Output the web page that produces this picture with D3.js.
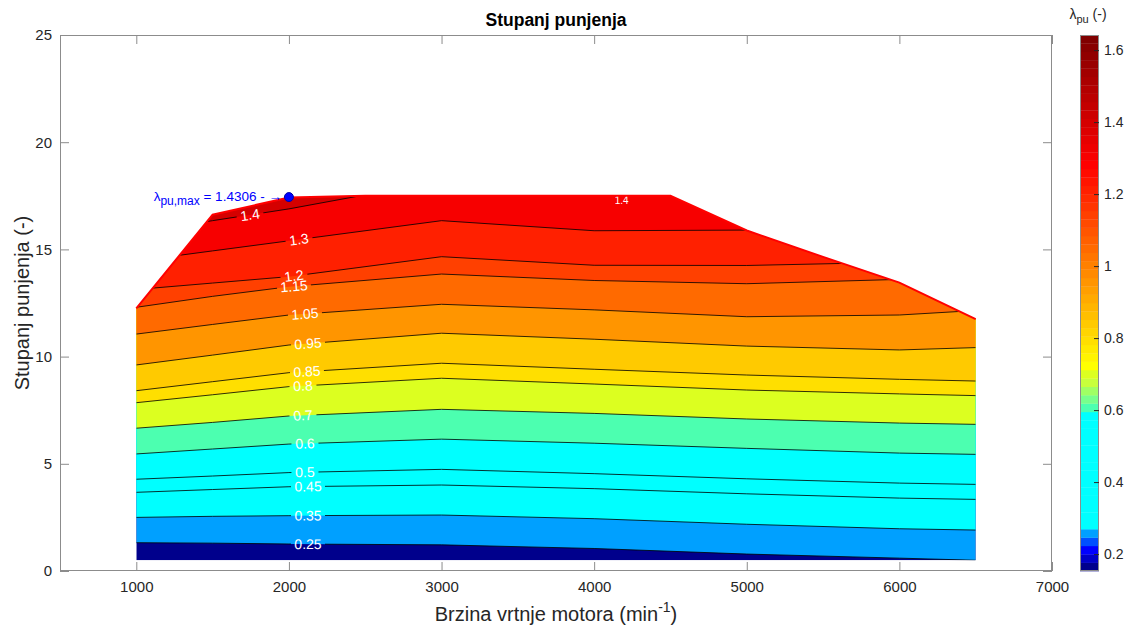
<!DOCTYPE html>
<html><head><meta charset="utf-8">
<script src="https://cdn.jsdelivr.net/npm/d3@7"></script>
<style>
body{margin:0;background:#fff;}
text{font-family:"Liberation Sans",Arial,Helvetica,sans-serif;}
</style>
</head><body>
<svg id="c" width="1127" height="631"></svg>
<script>
// ---------------- data ----------------
const speedCols = [1000, 1500, 2000, 3000, 4000, 5000, 6000, 6500];   // x columns of contour lines (min^-1)
const levels = [0.25, 0.35, 0.45, 0.5, 0.6, 0.7, 0.8, 0.85, 0.95, 1.05, 1.15, 1.2, 1.3, 1.4];
// y (Stupanj punjenja) of each contour level at the speed columns
const c025 = [1.32, 1.30, 1.26, 1.22, 1.05, 0.79, 0.60, 0.50];
const c035 = [2.50, 2.55, 2.58, 2.61, 2.44, 2.18, 1.97, 1.91];
const c045 = [3.67, 3.80, 3.93, 4.01, 3.84, 3.60, 3.40, 3.34];
const c050 = [4.28, 4.43, 4.59, 4.74, 4.54, 4.30, 4.10, 4.04];
const c060 = [5.46, 5.69, 5.92, 6.15, 5.96, 5.72, 5.50, 5.44];
const c070 = [6.66, 6.93, 7.23, 7.54, 7.35, 7.09, 6.90, 6.84];
const c080 = [7.85, 8.22, 8.60, 8.99, 8.72, 8.44, 8.26, 8.18];
const c085 = [8.41, 8.83, 9.25, 9.69, 9.41, 9.14, 8.94, 8.86];
const c095 = [9.61, 10.07, 10.54, 11.09, 10.81, 10.49, 10.31, 10.42];
const c105 = [11.05, 11.50, 11.94, 12.44, 12.18, 11.86, 11.94, 12.15];
const c115 = [12.30, 12.81, 13.26, 13.85, 13.55, 13.40, 13.60, 13.80];
const c120 = [13.13, 13.43, 13.73, 14.66, 14.26, 14.25, 14.40, 14.50];
const c130 = [14.46, 14.93, 15.40, 16.34, 15.87, 15.90, 16.20, 16.30];
const c140 = [15.79, 16.34, 16.89, 18.20, 17.60, 18.00, 18.50, 18.50];
const contourRows = [c025, c035, c045, c050, c060, c070, c080, c085, c095, c105, c115, c120, c130, c140];

// full-load boundary (top edge of the map)
const boundX = [1000, 1500, 2000, 2500, 3000, 3500, 4000, 4500, 5000, 5500, 6000, 6500];
const boundY = [12.25, 16.62, 17.42, 17.50, 17.50, 17.50, 17.50, 17.50, 15.88, 14.65, 13.45, 11.75];
const bottomY = 0.5;

// contour label positions (speed) for each level
const labelSpeed = [2125, 2125, 2125, 2105, 2105, 2092, 2092, 2118, 2125, 2105, 2033, 2033, 2066, 1745];
const extraLabel = {text: "1.4", x: 4180, y: 17.28};

// maximum point
const maxPoint = {x: 2000, y: 17.44, value: "1.4306"};

const xTicks = [1000, 2000, 3000, 4000, 5000, 6000, 7000];
const yTicks = [0, 5, 10, 15, 20, 25];
const cbTicks = [0.2, 0.4, 0.6, 0.8, 1, 1.2, 1.4, 1.6];
const cbRange = [0.153, 1.642];

// colormap anchors (index in 64-colour map)
const cmapAnchors = [[0,'#00008c'],[1,'#0000c8'],[2,'#0000ff'],[3,'#0050ff'],[4,'#00a0ff'],[5,'#00ffff'],[18,'#00ffff'],
  [19,'#4cffb0'],[20,'#78ff8c'],[21,'#a0ff64'],[22,'#c8ff3c'],[23,'#dcff20'],[24,'#ffff00'],[48,'#ff0000'],[63,'#800000']];
const NC = 64;

// ---------------- build ----------------
const cmap = [];
for (let i = 0; i < NC; i++) {
  let a = 0; while (a < cmapAnchors.length - 1 && cmapAnchors[a+1][0] <= i) a++;
  if (a === cmapAnchors.length - 1) { cmap.push(cmapAnchors[a][1]); continue; }
  const [i0, col0] = cmapAnchors[a], [i1, col1] = cmapAnchors[a+1];
  cmap.push(d3.interpolateRgb(col0, col1)((i - i0) / (i1 - i0)));
}
const colorOf = v => cmap[Math.max(0, Math.min(NC-1, Math.floor((v - cbRange[0]) / (cbRange[1] - cbRange[0]) * NC)))];

const svg = d3.select('#c');
const x = d3.scaleLinear().domain([500, 7000]).range([60, 1052]);
const y = d3.scaleLinear().domain([0, 25]).range([571, 35]);
const defs = svg.append('defs');

// region clip
const region = [[boundX[0], bottomY], [boundX[boundX.length-1], bottomY]];
for (let i = boundX.length - 1; i >= 0; i--) region.push([boundX[i], boundY[i]]);
defs.append('clipPath').attr('id', 'reg').append('path')
  .attr('d', 'M' + region.map(p => [x(p[0]), y(p[1])].join(',')).join('L') + 'Z');

const rows = contourRows.map(r => r.map((v, i) => [speedCols[i], v]));
const lineGen = d3.line().x(d => x(d[0])).y(d => y(d[1]));
const areaGen = d3.area().x(d => x(d[0])).y0(y(25)).y1(d => y(d[1]));
const interpAt = (row, sx) => {
  for (let i = 0; i < row.length - 1; i++) if (sx >= row[i][0] && sx <= row[i+1][0]) {
    const t = (sx - row[i][0]) / (row[i+1][0] - row[i][0]);
    return [row[i][1] + t * (row[i+1][1] - row[i][1]), (row[i+1][1] - row[i][1]) / (row[i+1][0] - row[i][0])];
  }
  return [row[row.length-1][1], 0];
};

const gMap = svg.append('g').attr('clip-path', 'url(#reg)');
gMap.append('path').attr('d', 'M' + region.map(p => [x(p[0]), y(p[1])].join(',')).join('L') + 'Z')
  .attr('fill', colorOf(cbRange[0]));
levels.forEach((lv, k) => {
  gMap.append('path').attr('d', areaGen(rows[k])).attr('fill', colorOf(lv));
});

// labels: positions and mask
const labelFs = 14;
const labs = levels.map((lv, k) => {
  const [yy, slope] = interpAt(rows[k], labelSpeed[k]);
  const px = x(labelSpeed[k]), py = y(yy);
  const ang = Math.atan2(y(yy + slope * 100) - py, x(labelSpeed[k] + 100) - px) * 180 / Math.PI;
  return {txt: String(lv), px, py, ang, fs: labelFs};
});
labs.push({txt: extraLabel.text, px: x(extraLabel.x), py: y(extraLabel.y), ang: 0, fs: 10});

const mask = defs.append('mask').attr('id', 'lm').attr('maskUnits', 'userSpaceOnUse')
  .attr('x', 0).attr('y', 0).attr('width', 1127).attr('height', 631);
mask.append('rect').attr('width', 1127).attr('height', 631).attr('fill', '#fff');
labs.forEach(l => {
  const w = l.txt.length * l.fs * 0.5 + 6;
  mask.append('rect').attr('x', -w/2).attr('y', -l.fs*0.55).attr('width', w).attr('height', l.fs*1.1)
    .attr('fill', '#000').attr('transform', `translate(${l.px},${l.py}) rotate(${l.ang})`);
});

const gLines = gMap.append('g').attr('mask', 'url(#lm)');
rows.forEach(r => gLines.append('path').attr('d', lineGen(r)).attr('fill', 'none')
  .attr('stroke', '#000').attr('stroke-width', 0.9).attr('stroke-opacity', 0.9));

gMap.selectAll('text.cl').data(labs).join('text').attr('class', 'cl')
  .attr('transform', l => `translate(${l.px},${l.py}) rotate(${l.ang})`)
  .attr('text-anchor', 'middle').attr('dy', '0.35em')
  .attr('font-size', l => l.fs).attr('fill', '#fff').text(l => l.txt);

// boundary line
svg.append('path').attr('d', lineGen(boundX.map((v, i) => [v, boundY[i]])))
  .attr('fill', 'none').attr('stroke', '#ff0000').attr('stroke-width', 2);

// axes box and ticks
const axColor = '#262626';
svg.append('rect').attr('x', 60.5).attr('y', 35.5).attr('width', 991).attr('height', 535)
  .attr('fill', 'none').attr('stroke', '#8c8c8c').attr('stroke-width', 1);
const styleAxis = g => { g.select('.domain').remove(); g.selectAll('line').attr('stroke', '#8c8c8c');
  g.selectAll('text').attr('fill', axColor).attr('font-size', 15); };
svg.append('g').attr('transform', 'translate(0,571)')
  .call(d3.axisBottom(x).tickValues(xTicks).tickSizeInner(-9).tickSizeOuter(0).tickPadding(10).tickFormat(d3.format('d')))
  .call(styleAxis);
svg.append('g').attr('transform', 'translate(0,35)')
  .call(d3.axisTop(x).tickValues(xTicks).tickSizeInner(-9).tickSizeOuter(0).tickFormat(''))
  .call(styleAxis);
svg.append('g').attr('transform', 'translate(60,0)')
  .call(d3.axisLeft(y).tickValues(yTicks).tickSizeInner(-9).tickSizeOuter(0).tickPadding(8))
  .call(styleAxis);
svg.append('g').attr('transform', 'translate(1052,0)')
  .call(d3.axisRight(y).tickValues(yTicks).tickSizeInner(-9).tickSizeOuter(0).tickFormat(''))
  .call(styleAxis);

// titles
svg.append('text').attr('x', 556).attr('y', 26).attr('text-anchor', 'middle')
  .attr('font-size', 17.5).attr('font-weight', 'bold').attr('fill', '#000').text('Stupanj punjenja');
const xl = svg.append('text').attr('x', 556).attr('y', 621).attr('text-anchor', 'middle')
  .attr('font-size', 20).attr('fill', axColor);
xl.append('tspan').text('Brzina vrtnje motora (min');
xl.append('tspan').attr('font-size', 14).attr('dy', -9).text('-1');
xl.append('tspan').attr('dy', 9).text(')');
svg.append('text').attr('transform', 'translate(29,303) rotate(-90)').attr('text-anchor', 'middle')
  .attr('font-size', 20).attr('fill', axColor).text('Stupanj punjenja (-)');

// max point annotation
svg.append('circle').attr('cx', x(maxPoint.x)).attr('cy', y(maxPoint.y)).attr('r', 4.5)
  .attr('fill', '#0000ff').attr('stroke', '#0000aa').attr('stroke-width', 1);
const at = svg.append('text').attr('x', x(maxPoint.x) - 7).attr('y', y(maxPoint.y) + 4)
  .attr('text-anchor', 'end').attr('font-size', 13.5).attr('fill', '#0000ff');
at.append('tspan').text('λ');
at.append('tspan').attr('font-size', 12).attr('dy', 4).text('pu,max');
at.append('tspan').attr('dy', -4).text(' = ' + maxPoint.value + ' - →');

// colorbar
const cb = d3.scaleLinear().domain(cbRange).range([571, 35]);
const cbX = 1080, cbW = 19;
const cbg = svg.append('g');
cmap.forEach((c, i) => {
  const v0 = cbRange[0] + i * (cbRange[1] - cbRange[0]) / NC, v1 = cbRange[0] + (i + 1) * (cbRange[1] - cbRange[0]) / NC;
  cbg.append('rect').attr('x', cbX).attr('y', cb(v1)).attr('width', cbW).attr('height', cb(v0) - cb(v1) + 0.3).attr('fill', c);
});
cbg.append('rect').attr('x', cbX + 0.5).attr('y', 35.5).attr('width', cbW - 1).attr('height', 535)
  .attr('fill', 'none').attr('stroke', '#8c8c8c');
svg.append('g').attr('transform', `translate(${cbX + cbW},0)`)
  .call(d3.axisRight(cb).tickValues(cbTicks).tickSizeInner(-5).tickSizeOuter(0).tickPadding(5).tickFormat(d3.format('')))
  .call(g => { g.select('.domain').remove(); g.selectAll('line').attr('stroke', '#262626');
    g.selectAll('text').attr('fill', axColor).attr('font-size', 14); });
const cl = svg.append('text').attr('x', 1088).attr('y', 19).attr('text-anchor', 'middle')
  .attr('font-size', 14).attr('fill', axColor);
cl.append('tspan').text('λ');
cl.append('tspan').attr('font-size', 11).attr('dy', 4).text('pu');
cl.append('tspan').attr('dy', -4).text(' (-)');
</script>
</body></html>
